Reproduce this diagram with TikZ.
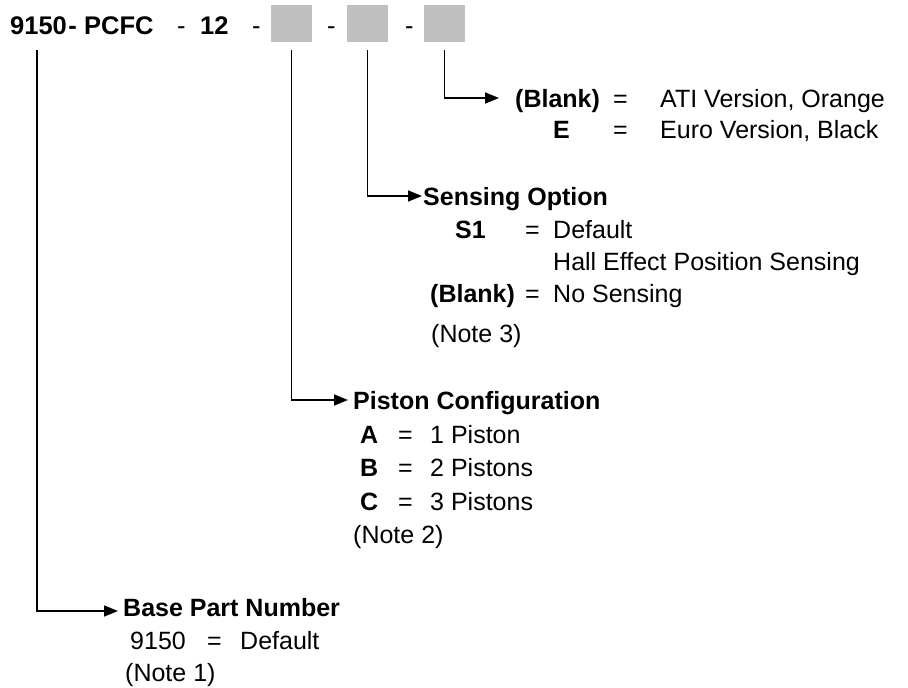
\documentclass[tikz,border=0pt]{standalone}
\usepackage{fontspec}
\setmainfont{Liberation Sans}
\usetikzlibrary{arrows.meta}
\tikzstyle{txt} = [anchor=west, inner sep=1pt, text height=18pt, text depth=0pt, font=\fontsize{25}{30}\selectfont]
\tikzstyle{code} = [txt, font=\fontsize{25}{30}\selectfont\bfseries]
\tikzstyle{top} = [txt, text height=19pt, font=\fontsize{25.5}{30}\selectfont\bfseries]
\tikzstyle{hyph} = [txt, text height=19pt, font=\fontsize{25.5}{30}\selectfont]
\tikzstyle{slot} = [rectangle, draw=none, fill=gray!50, minimum width=41pt, minimum height=37pt, inner sep=0pt]
\tikzstyle{arrow} = [line width=1.6pt, -{Triangle[length=14pt,width=11pt]}]

\begin{document}
\begin{tikzpicture}[x=1pt, y=-1pt]
\useasboundingbox (0,0) rectangle (908,688);

% Part number
\node (num) [top] at (9,25) {9150};
\node (numdash) [top, inner sep=0pt] at (num.east) {-};
\node (pcfc) [top] at (83,25) {PCFC};
\node (d1) [hyph] at (176,25) {-};
\node (size) [top] at (199,25) {12};
\node (d2) [hyph] at (251,25) {-};
\node (opt1) [slot] at (291.5,23.5) {};
\node (d3) [hyph] at (326,25) {-};
\node (opt2) [slot] at (367.5,23.5) {};
\node (d4) [hyph] at (404,25) {-};
\node (opt3) [slot] at (444.5,23.5) {};

% Color option
\node (blank4) [code] at (514,98) {(Blank)};
\node (eq4a) [txt] at (612,98) {=};
\node (ati) [txt] at (659,98) {ATI Version, Orange};
\node (e4) [code] at (552,129) {E};
\node (eq4b) [txt] at (612,129) {=};
\node (euro) [txt] at (659,129) {Euro Version, Black};

% Sensing option
\node (sens) [code] at (422,196) {Sensing Option};
\node (s1) [code] at (454,229) {S1};
\node (eq3a) [txt] at (524,229) {=};
\node (dflt3) [txt] at (552,229) {Default};
\node (hall) [txt] at (552,261) {Hall Effect Position Sensing};
\node (blank3) [code] at (429,293) {(Blank)};
\node (eq3b) [txt] at (524,293) {=};
\node (nosens) [txt] at (552,293) {No Sensing};
\node (note3) [txt] at (430,333) {(Note 3)};

% Piston configuration
\node (piston) [code] at (352,400) {Piston Configuration};
\node (pa) [code] at (359,434) {A};
\node (eq2a) [txt] at (397,434) {=};
\node (p1) [txt] at (429,434) {1 Piston};
\node (pb) [code] at (359,467) {B};
\node (eq2b) [txt] at (397,467) {=};
\node (p2) [txt] at (429,467) {2 Pistons};
\node (pc) [code] at (359,501) {C};
\node (eq2c) [txt] at (397,501) {=};
\node (p3) [txt] at (429,501) {3 Pistons};
\node (note2) [txt] at (352,534) {(Note 2)};

% Base part number
\node (basepn) [code] at (122,607) {Base Part Number};
\node (n9150) [txt] at (129,640) {9150};
\node (eq1) [txt] at (206,640) {=};
\node (dflt1) [txt] at (239,640) {Default};
\node (note1) [txt] at (124,672) {(Note 1)};

% Connectors
\draw [arrow, shorten >=15pt] ([yshift=-8pt]opt3.south) |- (blank4.west);
\draw [arrow] ([yshift=-8pt]opt2.south) |- (sens.west);
\draw [arrow, shorten >=4pt] ([yshift=-8pt]opt1.south) |- (piston.west);
\draw [arrow, shorten >=4pt] ([xshift=-1.5pt,yshift=-14.5pt]num.south) |- ([yshift=-4pt]basepn.west);

\end{tikzpicture}
\end{document}
